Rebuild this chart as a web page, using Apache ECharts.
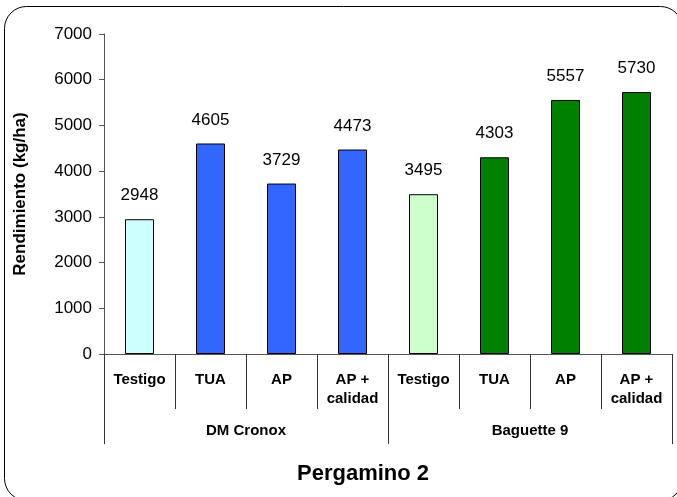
<!DOCTYPE html>
<html>
<head>
<meta charset="utf-8">
<title>Pergamino 2</title>
<script src="https://cdn.jsdelivr.net/npm/echarts@6/dist/echarts.min.js"></script>
<style>
  html, body { margin: 0; padding: 0; background: #fff; }
  #chart { width: 677px; height: 497px; }
</style>
</head>
<body>
<div id="chart"></div>
<script>
// datos
const categories = ['Testigo', 'TUA', 'AP', 'AP +\ncalidad', 'Testigo', 'TUA', 'AP', 'AP +\ncalidad']
const groups = ['DM Cronox', 'Baguette 9']
const rendimiento = [2948, 4605, 3729, 4473, 3495, 4303, 5557, 5730]
const yTicks = [0, 1000, 2000, 3000, 4000, 5000, 6000, 7000]

const barColors = ['#CCFFFF', '#3366FF', '#3366FF', '#3366FF', '#CCFFCC', '#008000', '#008000', '#008000']
const font = '"Liberation Sans", Arial, sans-serif'

const chart = echarts.init(document.getElementById('chart'))

const option = {
  animation: false,
  backgroundColor: '#fff',
  title: {
    text: 'Pergamino 2',
    left: 297,
    top: 463,
    padding: 0,
    textStyle: { fontFamily: font, fontSize: 22, fontWeight: 'bold', color: '#000' }
  },
  graphic: [{
    type: 'rect',
    shape: { x: 4.5, y: 6.5, width: 678, height: 494, r: 22 },
    style: { fill: 'none', stroke: '#000', lineWidth: 1 },
    silent: true
  }],
  grid: { left: 104, right: 5, top: 34, bottom: 143 },
  xAxis: [
    {
      type: 'category',
      data: categories,
      axisLine: { lineStyle: { color: '#555', width: 1 } },
      axisTick: { show: true, interval: 0, length: 55, lineStyle: { color: '#333' } },
      axisLabel: {
        interval: 0,
        margin: 16,
        fontFamily: font,
        fontSize: 15,
        fontWeight: 'bold',
        lineHeight: 19,
        color: '#000'
      }
    },
    {
      type: 'category',
      data: groups,
      position: 'bottom',
      axisLine: { show: false },
      axisTick: { show: true, interval: 0, length: 90, lineStyle: { color: '#333' } },
      axisLabel: {
        interval: 0,
        margin: 69,
        fontFamily: font,
        fontSize: 15,
        fontWeight: 'bold',
        color: '#000'
      }
    }
  ],
  yAxis: {
    type: 'value',
    min: yTicks[0],
    max: yTicks[yTicks.length - 1],
    interval: 1000,
    name: 'Rendimiento (kg/ha)',
    nameLocation: 'middle',
    nameGap: 75,
    nameTextStyle: { fontFamily: font, fontSize: 17, fontWeight: 'bold', color: '#000' },
    splitLine: { show: false },
    axisLine: { show: true, lineStyle: { color: '#555' } },
    axisTick: { show: true, length: 5, lineStyle: { color: '#555' } },
    axisLabel: {
      margin: 12,
      fontFamily: font,
      fontSize: 17,
      color: '#000',
      formatter: (v) => String(v)
    }
  },
  series: [{
    type: 'bar',
    xAxisIndex: 0,
    data: rendimiento,
    barWidth: 29,
    itemStyle: {
      color: (p) => barColors[p.dataIndex],
      borderColor: '#000',
      borderWidth: 1
    },
    label: {
      show: true,
      position: 'top',
      distance: 15,
      fontFamily: font,
      fontSize: 17,
      color: '#000'
    }
  }]
}

chart.setOption(option)
</script>
</body>
</html>
